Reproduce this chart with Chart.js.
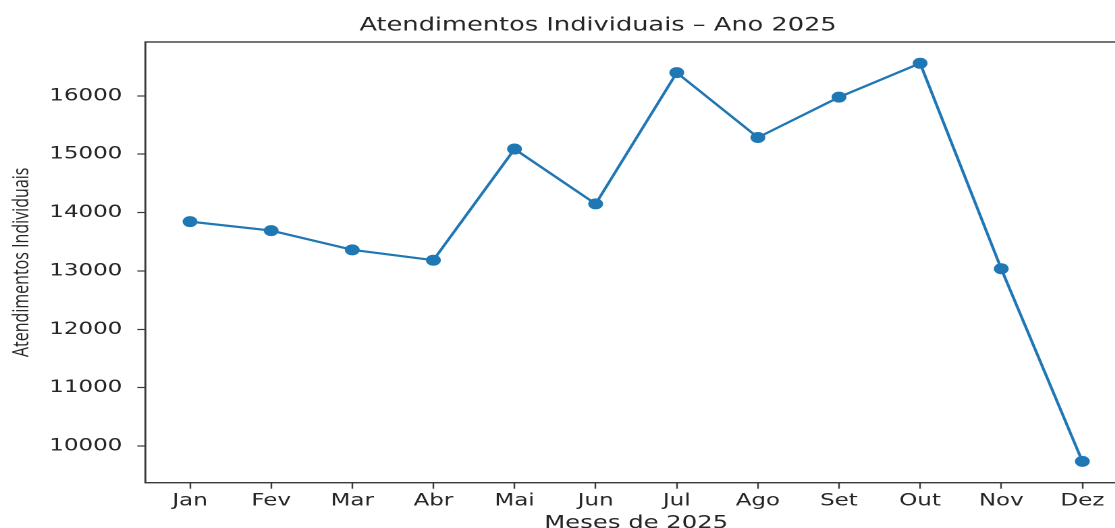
<!DOCTYPE html>
<html lang="pt">
<head>
  <meta charset="UTF-8">
  <title>Atendimentos Individuais</title>
  <script src="https://cdn.jsdelivr.net/npm/chart.js@4.4.1/dist/chart.umd.min.js"></script>
  <style>
    html, body { margin: 0; padding: 0; background: #fff; overflow: hidden; }
    /* the reference is stretched sideways, so the chart is drawn narrow and widened */
    #wrap { width: 886px; height: 540px; transform: scaleX(1.35); transform-origin: 0 0; }
  </style>
</head>
<body>
  <div id="wrap"><canvas id="chart" width="886" height="540"></canvas></div>
  <script>
    const meses = ['Jan', 'Fev', 'Mar', 'Abr', 'Mai', 'Jun', 'Jul', 'Ago', 'Set', 'Out', 'Nov', 'Dez'];
    const atendimentos = [13846, 13692, 13362, 13185, 15089, 14149, 16398, 15287, 15978, 16558, 13038, 9738];
    const yTicks = [10000, 11000, 12000, 13000, 14000, 15000, 16000];

    const textColor = '#262626';
    const axisColor = '#3a3a3a';

    // frame around the plot area (matplotlib style box)
    const frame = {
      id: 'frame',
      afterDraw(chart) {
        const a = chart.chartArea;
        const ctx = chart.ctx;
        ctx.save();
        ctx.strokeStyle = axisColor;
        ctx.lineWidth = 1.4;
        ctx.strokeRect(a.left, a.top, a.right - a.left, a.bottom - a.top);
        ctx.restore();
      }
    };

    const ctx = document.getElementById('chart').getContext('2d');
    new Chart(ctx, {
      type: 'line',
      data: {
        datasets: [{
          label: 'Atendimentos',
          data: meses.map((m, i) => ({ x: i, y: atendimentos[i] })),
          borderColor: '#1f77b4',
          backgroundColor: '#1f77b4',
          borderWidth: 2.2,
          pointRadius: 5.5,
          pointBorderWidth: 0,
          fill: false,
          tension: 0
        }]
      },
      options: {
        responsive: false,
        devicePixelRatio: 2,
        animation: false,
        events: [],
        layout: { padding: { left: 51.2, right: 51.2, top: 0, bottom: 0 } },
        plugins: {
          legend: { display: false },
          tooltip: { enabled: false },
          title: {
            display: true,
            text: 'Atendimentos Individuais – Ano 2025',
            color: textColor,
            font: { family: 'DejaVu Sans', size: 19, weight: 'normal' },
            padding: { top: 14, bottom: 5.2 }
          }
        },
        scales: {
          x: {
            type: 'linear',
            min: -0.55,
            max: 11.55,
            afterFit: s => { s.height = 57.3; },
            ticks: {
              stepSize: 1,
              maxTicksLimit: 20,
              includeBounds: false,
              autoSkip: false,
              maxRotation: 0,
              padding: 2,
              color: textColor,
              font: { family: 'DejaVu Sans', size: 17 },
              callback: v => meses[v]
            },
            grid: { drawOnChartArea: false, drawTicks: true, tickLength: 6, color: axisColor, tickWidth: 1.2 },
            border: { display: false },
            title: {
              display: true,
              text: 'Meses de 2025',
              color: textColor,
              font: { family: 'DejaVu Sans', size: 18 },
              padding: { top: 0, bottom: 6 }
            }
          },
          y: {
            min: 9373,
            max: 16923,
            afterFit: s => { s.width = 56.5; },
            afterBuildTicks: s => { s.ticks = yTicks.map(v => ({ value: v })); },
            ticks: {
              // mirror keeps the labels from being clipped to the narrow axis box
              mirror: true,
              crossAlign: 'near',
              padding: -71.2,
              color: textColor,
              font: { family: 'DejaVu Sans', size: 17 },
              callback: v => String(v)
            },
            grid: { drawOnChartArea: false, drawTicks: true, tickLength: 6, color: axisColor, tickWidth: 1.2 },
            border: { display: false },
            title: {
              display: true,
              text: 'Atendimentos Individuais',
              color: textColor,
              font: { family: 'Open Sans', size: 16 },
              padding: { top: -44.5, bottom: 0 }
            }
          }
        }
      },
      plugins: [frame]
    });
  </script>
</body>
</html>
